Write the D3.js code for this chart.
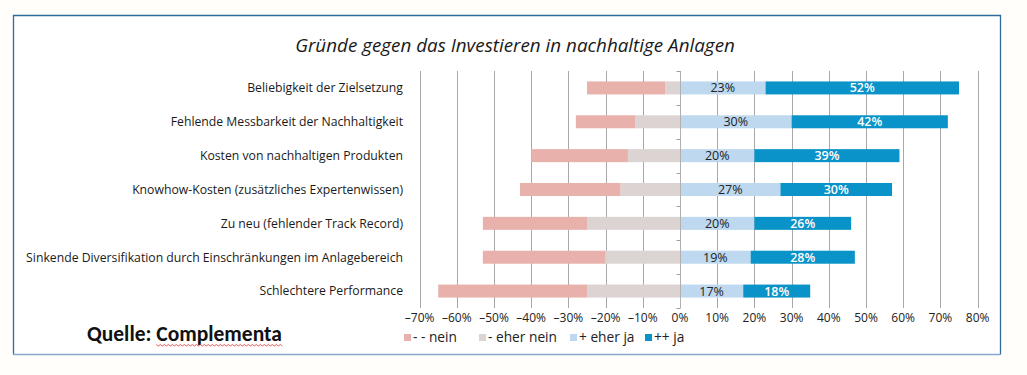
<!DOCTYPE html>
<html>
<head>
<meta charset="utf-8">
<script src="https://cdn.jsdelivr.net/npm/d3@7"></script>
<style>
  html, body { margin: 0; padding: 0; background: #fffefa; }
  svg { display: block; }
</style>
</head>
<body>
<svg id="chart" width="1027" height="375"></svg>
<script>
// ---- data ----
const title = "Gründe gegen das Investieren in nachhaltige Anlagen";
const categories = [
  "Beliebigkeit der Zielsetzung",
  "Fehlende Messbarkeit der Nachhaltigkeit",
  "Kosten von nachhaltigen Produkten",
  "Knowhow-Kosten (zusätzliches Expertenwissen)",
  "Zu neu (fehlender Track Record)",
  "Sinkende Diversifikation durch Einschränkungen im Anlagebereich",
  "Schlechtere Performance"
];
const nein      = [21, 16, 26, 27, 28, 33, 40];
const eherNein  = [4, 12, 14, 16, 25, 20, 25];
const eherJa    = [23, 30, 20, 27, 20, 19, 17];
const ja        = [52, 42, 39, 30, 26, 28, 18];
const tickValues = [-70, -60, -50, -40, -30, -20, -10, 0, 10, 20, 30, 40, 50, 60, 70, 80];
const seriesNames = ["- - nein", "- eher nein", "+ eher ja", "++ ja"];
const seriesColors = ["#e8b1ac", "#dcd4d2", "#bdd8ef", "#0a93c8"];
const sourceLabel = "Quelle:";
const sourceName = "Complementa";

// ---- layout ----
const svg = d3.select("#chart");
const font = "'Open Sans', 'Noto Sans', sans-serif";

// frame
svg.append("rect").attr("x", 13.5).attr("y", 15.5).attr("width", 987).attr("height", 339)
  .attr("fill", "#ffffff").attr("stroke", "none");
svg.append("path").attr("d", "M13.5,354.5 V15.5 H1000.5 V354.5")
  .attr("fill", "none").attr("stroke", "#2f6b9b").attr("stroke-width", 1.3);
svg.append("path").attr("d", "M13.5,354.5 H1000.5")
  .attr("fill", "none").attr("stroke", "#86a8d2").attr("stroke-width", 1.3);

const x = d3.scaleLinear().domain([-70, 80]).range([419.6, 977.6]);
const y = d3.scaleBand().domain(categories).range([71, 308]).paddingInner(0).paddingOuter(0);
const barH = 13;
const barY = c => y(c) + (y.bandwidth() - barH) / 2;

// gridlines
svg.append("g").selectAll("line").data(tickValues.filter(v => v !== 0)).join("line")
  .attr("x1", d => Math.round(x(d)) + 0.5).attr("x2", d => Math.round(x(d)) + 0.5)
  .attr("y1", 71).attr("y2", 308)
  .attr("stroke", "#a8a8a8").attr("stroke-width", 1);

// bars
const rows = categories.map((c, i) => ({c, i}));
const segs = [];
rows.forEach(({c, i}) => {
  segs.push({c, s: 1, x0: -eherNein[i], x1: 0, v: eherNein[i]});
  segs.push({c, s: 0, x0: -(eherNein[i] + nein[i]), x1: -eherNein[i], v: nein[i]});
  segs.push({c, s: 2, x0: 0, x1: eherJa[i], v: eherJa[i]});
  segs.push({c, s: 3, x0: eherJa[i], x1: eherJa[i] + ja[i], v: ja[i]});
});
svg.append("g").selectAll("rect").data(segs).join("rect")
  .attr("x", d => x(d.x0)).attr("width", d => x(d.x1) - x(d.x0))
  .attr("y", d => barY(d.c)).attr("height", barH)
  .attr("fill", d => seriesColors[d.s]);

// zero axis with small ticks to the left at category boundaries
const x0 = Math.round(x(0)) + 0.5;
svg.append("line").attr("x1", x0).attr("x2", x0).attr("y1", 71).attr("y2", 308)
  .attr("stroke", "#b0b0b0").attr("stroke-width", 1);
const bounds = categories.map(c => y(c)).concat([y.range()[1]]);
svg.append("g").selectAll("line").data(bounds).join("line")
  .attr("x1", x0 - 4).attr("x2", x0).attr("y1", d => Math.round(d) + 0.5).attr("y2", d => Math.round(d) + 0.5)
  .attr("stroke", "#a0a0a0");

// value labels (positive side)
svg.append("g").selectAll("text").data(segs.filter(d => d.s >= 2)).join("text")
  .attr("x", d => x((d.x0 + d.x1) / 2)).attr("y", d => barY(d.c) + barH / 2)
  .attr("dy", "0.36em").attr("text-anchor", "middle")
  .attr("font-family", font).attr("font-size", 12.5)
  .attr("font-weight", d => d.s === 3 ? 600 : 400)
  .attr("fill", d => d.s === 3 ? "#ffffff" : "#222222")
  .text(d => d.v + "%");

// category labels
const catG = svg.append("g").selectAll("text").data(categories).join("text")
  .attr("x", 403).attr("y", c => y(c) + y.bandwidth() / 2)
  .attr("dy", "0.36em").attr("text-anchor", "end")
  .attr("font-family", font).attr("font-size", 12).attr("fill", "#1a1a1a")
  .text(c => c);
const longest = catG.nodes()[5].getComputedTextLength();
catG.attr("font-size", 12 * 377 / longest);

// x axis tick labels
const fmt = v => (v < 0 ? "–" + Math.abs(v) : v) + "%";
svg.append("g").selectAll("text").data(tickValues).join("text")
  .attr("x", d => x(d)).attr("y", 318).attr("dy", "0.36em").attr("text-anchor", "middle")
  .attr("font-family", font).attr("font-size", 12).attr("fill", "#222")
  .text(fmt);

// title
const t = svg.append("text").attr("x", 515).attr("y", 52).attr("text-anchor", "middle")
  .attr("font-family", font).attr("font-style", "italic").attr("font-size", 18).attr("fill", "#1a1a1a")
  .text(title);
const tw = t.node().getComputedTextLength();
t.attr("font-size", 18 * 440 / tw);

// legend
const legX = [404, 479, 570, 645];
const leg = svg.append("g").selectAll("g").data(seriesNames).join("g")
  .attr("transform", (d, i) => `translate(${legX[i]},334)`);
leg.append("rect").attr("width", 7).attr("height", 7).attr("fill", (d, i) => seriesColors[i]);
const legT = leg.append("text").attr("x", 9).attr("y", 3.5).attr("dy", "0.36em")
  .attr("font-family", font).attr("font-size", 12).attr("fill", "#222").text(d => d);
const lw = legT.nodes()[1].getComputedTextLength();
legT.attr("font-size", 12 * 69 / lw);

// source
const src = svg.append("text").attr("x", 87).attr("y", 341)
  .attr("font-family", "Carlito, 'Open Sans', sans-serif").attr("font-weight", 700)
  .attr("font-size", 17).attr("fill", "#111");
src.append("tspan").text(sourceLabel + " ");
const nameSpan = src.append("tspan").text(sourceName);
const full0 = src.node().getComputedTextLength();
src.attr("font-size", 17 * 195 / full0);
const full = src.node().getComputedTextLength();
const nameW = nameSpan.node().getComputedTextLength();
const ux0 = 87 + full - nameW, ux1 = 87 + full;
let p = `M${ux0},344.5`;
for (let xx = ux0, k = 0; xx < ux1; xx += 2, k++) p += ` L${xx + 2},${k % 2 ? 344.5 : 346}`;
svg.append("path").attr("d", p).attr("fill", "none").attr("stroke", "#e03030").attr("stroke-width", 0.8);
</script>
</body>
</html>
